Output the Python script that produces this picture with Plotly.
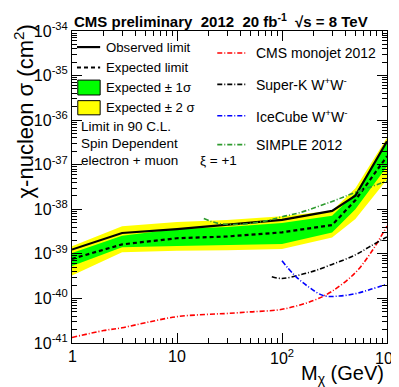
import math
import plotly.graph_objects as go

# CMS mono-lepton DM limits, spin dependent, xi = +1
mass = [1, 3, 10, 30, 100, 300, 500, 1000]
observed = [1.25e-39, 2.94e-39, 3.6e-39, 4.54e-39, 5.81e-39, 9.2e-39, 2.01e-38, 3.34e-37]
expected = [7.74e-40, 1.63e-39, 2.24e-39, 2.45e-39, 3.04e-39, 4.43e-39, 1.6e-38, 1.55e-37]
exp_1s_up = [1.04e-39, 2.56e-39, 3.6e-39, 4.0e-39, 4.9e-39, 7.2e-39, 2.29e-38, 3.12e-37]
exp_1s_dn = [5.32e-40, 1.41e-39, 1.51e-39, 1.58e-39, 1.67e-39, 3.01e-39, 1.0e-38, 9.12e-38]
exp_2s_up = [1.48e-39, 4.14e-39, 5.16e-39, 5.72e-39, 7.02e-39, 9.3e-39, 2.95e-38, 4.04e-37]
exp_2s_dn = [3.29e-40, 1.09e-39, 1.17e-39, 1.2e-39, 1.29e-39, 2.33e-39, 6.03e-39, 4.68e-38]

# other experiments
monojet_m = [1, 2, 3, 5, 10, 20, 30, 50, 100, 200, 300, 500, 700, 1000]
monojet_xs = [1.33e-41, 1.9e-41, 2.2e-41, 2.85e-41, 3.9e-41, 4.4e-41, 4.6e-41, 5.0e-41,
              5.7e-41, 9.0e-41, 1.45e-40, 3.8e-40, 1.05e-39, 4.2e-39]
superk_m = [80, 100, 150, 200, 300, 500, 700, 1000]
superk_xs = [3.05e-40, 2.8e-40, 3.4e-40, 4.1e-40, 5.8e-40, 9.5e-40, 1.5e-39, 2.4e-39]
icecube_m = [100, 130, 180, 250, 350, 500, 700, 1000]
icecube_xs = [7.0e-40, 3.4e-40, 1.8e-40, 1.15e-40, 1.13e-40, 1.28e-40, 1.6e-40, 2.1e-40]
simple_m = [18, 25, 40, 70, 100, 150, 300, 500, 1000]
simple_xs = [6.2e-39, 4.8e-39, 4.6e-39, 5.5e-39, 6.8e-39, 8.5e-39, 1.5e-38, 2.4e-38, 4.3e-38]

x_ticks = [1, 10, 100, 1000]
x_ticktext = ["1", "10", "10<sup>2</sup>", "10<sup>3</sup>"]
y_exps = list(range(-41, -33))
FONT = "Liberation Sans, Arial, Helvetica, sans-serif"

fig = go.Figure()

# 2 sigma band
fig.add_trace(go.Scatter(x=mass, y=exp_2s_up, mode="lines", line=dict(width=0), showlegend=False))
fig.add_trace(go.Scatter(x=mass, y=exp_2s_dn, mode="lines", line=dict(width=0),
                         fill="tonexty", fillcolor="#ffff00", showlegend=False))
# 1 sigma band
fig.add_trace(go.Scatter(x=mass, y=exp_1s_up, mode="lines", line=dict(width=0), showlegend=False))
fig.add_trace(go.Scatter(x=mass, y=exp_1s_dn, mode="lines", line=dict(width=0),
                         fill="tonexty", fillcolor="#00ff00", showlegend=False))

fig.add_trace(go.Scatter(x=mass, y=expected, mode="lines",
                         line=dict(color="black", width=2.2, dash="4px,3px"), showlegend=False))
fig.add_trace(go.Scatter(x=mass, y=observed, mode="lines",
                         line=dict(color="black", width=2.2), showlegend=False))

others = [
    (monojet_m, monojet_xs, "#ff0000"),
    (superk_m, superk_xs, "#000000"),
    (icecube_m, icecube_xs, "#0000ff"),
    (simple_m, simple_xs, "#2e9b2e"),
]
for m, xs, c in others:
    fig.add_trace(go.Scatter(x=m, y=xs, mode="lines", line_shape="spline",
                             line=dict(color=c, width=1.6, dash="5px,2px,1px,2px"),
                             showlegend=False))

# pixel -> paper helpers (plot area 63.5..379 x 20.5..335)
L, R, T, B = 63.5, 379.0, 20.5, 335.0
def px(x):
    return (x - L) / (R - L)
def py(y):
    return 1 - (y - T) / (B - T)

shapes = []
ann = []

def text(x, y, s, size=13.5, anchor="left", **kw):
    ann.append(dict(x=px(x), y=py(y), xref="paper", yref="paper", text=s, showarrow=False,
                    xanchor=anchor, yanchor="middle", font=dict(size=size, color="black", family=FONT), **kw))

# left legend
shapes.append(dict(type="line", xref="paper", yref="paper", x0=px(68.5), x1=px(91.7), y0=py(36.7), y1=py(36.7),
                   line=dict(color="black", width=2.2)))
text(96, 36.7, "Observed limit", 13.2)
shapes.append(dict(type="line", xref="paper", yref="paper", x0=px(68.5), x1=px(91.7), y0=py(57.3), y1=py(57.3),
                   line=dict(color="black", width=2.2, dash="4px,3px")))
text(96, 57.3, "Expected limit", 13.2)
shapes.append(dict(type="rect", xref="paper", yref="paper", x0=px(69.3), x1=px(91.7), y0=py(85), y1=py(70),
                   fillcolor="#00ff00", line=dict(color="black", width=1)))
text(96, 77.5, "Expected ± 1σ", 13.2)
shapes.append(dict(type="rect", xref="paper", yref="paper", x0=px(69.3), x1=px(91.7), y0=py(105), y1=py(90.7),
                   fillcolor="#ffff00", line=dict(color="black", width=1)))
text(96, 97.5, "Expected ± 2 σ", 13.2)
text(71, 117, "Limit in 90 C.L.", 13.5)
text(71, 134, "Spin Dependent", 13.5)
text(71, 151, "electron + muon", 13.5)
text(190, 151, "ξ\u00a0=\u00a0+1", 13.5)

# right legend
right_items = [
    (42.7, "CMS monojet 2012", "#ff0000"),
    (74.3, "Super-K W<sup>+</sup>W<sup>-</sup>", "#000000"),
    (106, "IceCube W<sup>+</sup>W<sup>-</sup>", "#0000ff"),
    (135, "SIMPLE 2012", "#2e9b2e"),
]
for yy, s, c in right_items:
    shapes.append(dict(type="line", xref="paper", yref="paper", x0=px(209), x1=px(238.5), y0=py(yy), y1=py(yy),
                       line=dict(color=c, width=1.6, dash="5px,2px,1px,2px")))
    text(246, yy, s, 14)

# title
sp = "\u00a0"
text(63, 10, f"<b>CMS preliminary{sp}{sp}2012{sp}{sp}20 fb<sup>-1</sup>{sp}{sp}√s = 8 TeV</b>", 15)

# x tick labels sit closer to the axis than plotly's default
for v, s in zip(x_ticks, x_ticktext):
    ann.append(dict(x=math.log10(v), y=py(349), xref="x", yref="paper", text=s, showarrow=False,
                    xanchor="center", yanchor="middle", font=dict(size=16, color="black", family=FONT)))

# axis titles
ann.append(dict(x=px(15), y=py(102), xref="paper", yref="paper", text="χ-nucleon σ (cm<sup>2</sup>)",
                showarrow=False, textangle=-90, xanchor="center", yanchor="middle",
                font=dict(size=22, color="black", family=FONT)))
ann.append(dict(x=px(378), y=py(367), xref="paper", yref="paper", text="M<sub>χ</sub> (GeV)",
                showarrow=False, xanchor="right", yanchor="middle",
                font=dict(size=20, color="black", family=FONT)))

fig.update_layout(
    width=399, height=387,
    margin=dict(l=L, r=399 - R, t=T, b=387 - B),
    paper_bgcolor="white", plot_bgcolor="white",
    shapes=shapes, annotations=ann,
    font=dict(family=FONT, color="black"),
)
fig.update_xaxes(
    type="log", range=[0, 3],
    tickvals=x_ticks, showticklabels=False,
    ticks="inside", ticklen=10, tickcolor="black",
    minor=dict(ticks="inside", ticklen=5, tickcolor="black", dtick="D1", showgrid=False),
    showline=True, linecolor="black", linewidth=1, mirror="allticks", showgrid=False, zeroline=False,
)
fig.update_yaxes(
    type="log", range=[-41, -34],
    tickvals=[10.0 ** e for e in y_exps], ticktext=[f"10<sup>{e}</sup>" for e in y_exps],
    ticks="inside", ticklen=10, tickcolor="black", tickfont=dict(size=16),
    minor=dict(ticks="inside", ticklen=5, tickcolor="black", dtick="D1", showgrid=False),
    showline=True, linecolor="black", linewidth=1, mirror="allticks", showgrid=False, zeroline=False,
)

fig.write_html("out.html")
